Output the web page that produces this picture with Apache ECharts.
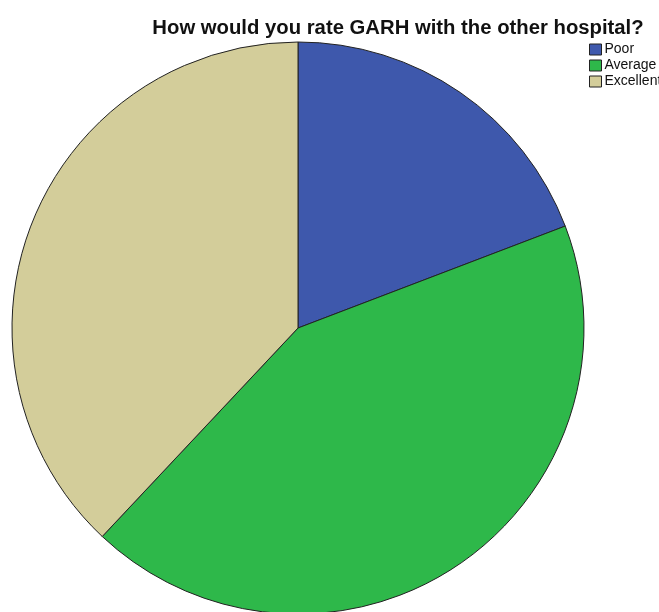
<!DOCTYPE html>
<html>
<head>
<meta charset="utf-8">
<style>
  html, body { margin: 0; padding: 0; background: #fff; }
  #chart { width: 659px; height: 612px; }
</style>
<script src="https://cdn.jsdelivr.net/npm/echarts@6/dist/echarts.min.js"></script>
</head>
<body>
<div id="chart"></div>
<script>
// Survey answers (percent of respondents)
const categories = ['Poor', 'Average', 'Excellent'];
const shares = [19.2, 42.8, 38.0];
const colors = ['#3e58ac', '#2eb84a', '#d3cd9a'];

const chart = echarts.init(document.getElementById('chart'), null, { renderer: 'canvas' });

chart.setOption({
  animation: false,
  backgroundColor: '#ffffff',
  title: {
    text: 'How would you rate GARH with the other hospital?',
    left: 393,
    textAlign: 'center',
    top: 13,
    textStyle: {
      fontFamily: 'Liberation Sans, Arial, sans-serif',
      fontWeight: 'bold',
      fontSize: 20.3,
      color: '#111'
    }
  },
  legend: {
    orient: 'vertical',
    left: 584,
    top: 37,
    itemWidth: 12,
    itemHeight: 11,
    itemGap: 1,
    icon: 'rect',
    selectedMode: false,
    data: categories,
    itemStyle: { borderColor: '#222', borderWidth: 1 },
    textStyle: {
      fontFamily: 'Liberation Sans, Arial, sans-serif',
      fontSize: 14,
      lineHeight: 15,
      color: '#111',
      padding: [0, 0, 0, -2]
    }
  },
  series: [{
    type: 'pie',
    center: [298, 328],
    radius: 286,
    startAngle: 90,
    clockwise: true,
    label: { show: false },
    labelLine: { show: false },
    emphasis: { disabled: true },
    itemStyle: { borderColor: '#222', borderWidth: 1 },
    data: categories.map((name, i) => ({
      name,
      value: shares[i],
      itemStyle: { color: colors[i] }
    }))
  }]
});
</script>
</body>
</html>
